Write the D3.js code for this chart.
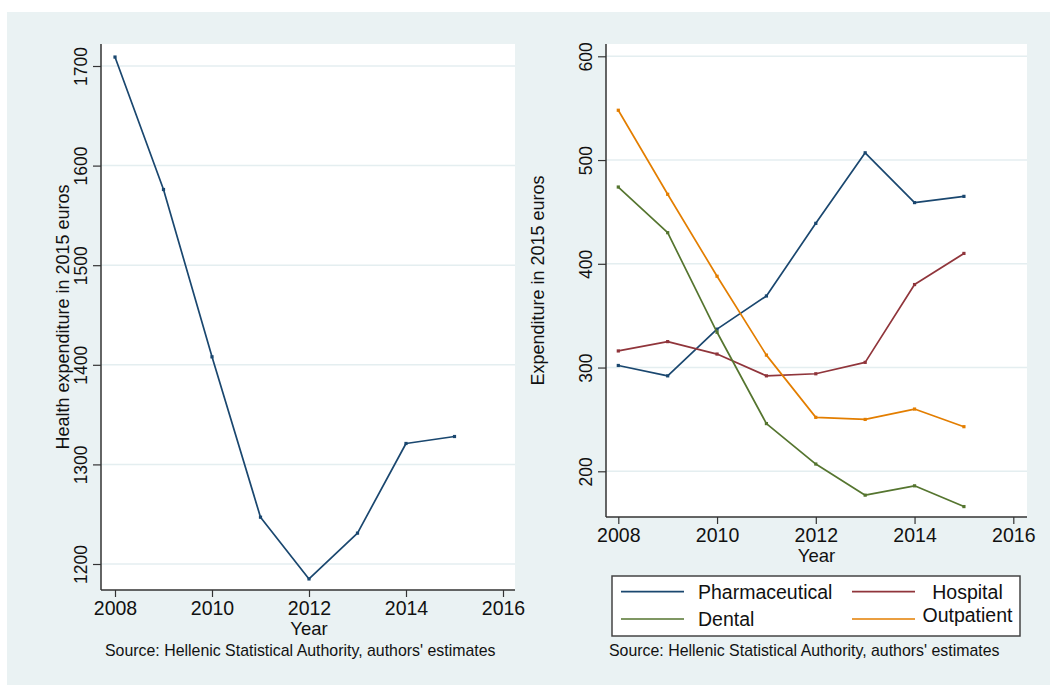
<!DOCTYPE html>
<html>
<head>
<meta charset="utf-8">
<script src="https://cdn.jsdelivr.net/npm/d3@7"></script>
<style>
  html, body { margin: 0; padding: 0; background: #ffffff; }
  svg { display: block; font-family: "Liberation Sans", Arial, Helvetica, sans-serif; }
</style>
</head>
<body>
<svg id="chart" width="1050" height="685"></svg>
<script>
// Years on the horizontal axes
const years = [2008, 2009, 2010, 2011, 2012, 2013, 2014, 2015];
const xTicks = [2008, 2010, 2012, 2014, 2016];

// Left panel: total health expenditure per capita (2015 euros)
const totalExpenditure = [1709, 1576, 1408, 1247, 1185, 1231, 1321, 1328];
const leftYTicks = [1200, 1300, 1400, 1500, 1600, 1700];

// Right panel: expenditure by type (2015 euros)
const seriesNames = ["Pharmaceutical", "Hospital", "Dental", "Outpatient"];
const pharmaceutical = [302, 292, 337, 369, 439, 507, 459, 465];
const hospital = [316, 325, 313, 292, 294, 305, 380, 410];
const dental = [474, 430, 334, 246, 207, 177, 186, 166];
const outpatient = [548, 467, 388, 312, 252, 250, 260, 243];
const rightYTicks = [200, 300, 400, 500, 600];

const sourceNote = "Source: Hellenic Statistical Authority, authors' estimates";

const colors = {
  Pharmaceutical: "#1a476f",
  Hospital: "#90353b",
  Dental: "#55752f",
  Outpatient: "#e37e00"
};
const bg = "#eaf2f3";
const gridColor = "#e4eef0";
const axisColor = "#333333";

const svg = d3.select("#chart");

// Graph region background
svg.append("rect").attr("x", 7).attr("y", 12).attr("width", 1043).attr("height", 673).attr("fill", bg);

function panel(opts) {
  const g = svg.append("g");
  const x = d3.scaleLinear().domain([2008, 2016]).range(opts.xRange);
  const y = d3.scaleLinear().domain(opts.yDomain).range(opts.yRange);

  // plot region
  g.append("rect")
    .attr("x", opts.left).attr("y", opts.top)
    .attr("width", opts.right - opts.left).attr("height", opts.bottom - opts.top)
    .attr("fill", "#ffffff");

  // horizontal grid lines
  g.append("g").selectAll("line").data(opts.yTicks).join("line")
    .attr("x1", opts.left).attr("x2", opts.right)
    .attr("y1", d => y(d)).attr("y2", d => y(d))
    .attr("stroke", gridColor).attr("stroke-width", 1.5);

  // x axis
  const xAxis = g.append("g")
    .attr("transform", `translate(0,${opts.bottom})`)
    .call(d3.axisBottom(x).tickValues(xTicks).tickFormat(d3.format("d")).tickSize(7).tickSizeOuter(0));
  xAxis.select(".domain").attr("d", `M${opts.left},0H${opts.right}`).attr("stroke", axisColor).attr("stroke-width", 1.5);
  xAxis.selectAll(".tick line").attr("stroke", axisColor).attr("stroke-width", 1.2);
  xAxis.selectAll(".tick text")
    .attr("y", 25).attr("dy", 0)
    .attr("fill", "#111").attr("font-size", 19.5).attr("font-family", null);

  // y axis with rotated labels
  const yAxis = g.append("g")
    .attr("transform", `translate(${opts.left},0)`)
    .call(d3.axisLeft(y).tickValues(opts.yTicks).tickFormat(d3.format("d")).tickSize(8).tickSizeOuter(0));
  yAxis.select(".domain").attr("d", `M0,${opts.top}V${opts.bottom}`).attr("stroke", axisColor).attr("stroke-width", 1.5);
  yAxis.selectAll(".tick line").attr("stroke", axisColor).attr("stroke-width", 1.2);
  yAxis.selectAll(".tick text")
    .attr("transform", "rotate(-90)")
    .attr("x", 0).attr("y", -14.5).attr("dy", 0)
    .attr("text-anchor", "middle")
    .attr("fill", "#111").attr("font-size", 17.5).attr("font-family", null);

  // axis titles
  g.append("text")
    .attr("x", opts.yearX).attr("y", opts.bottom + 45)
    .attr("text-anchor", "middle").attr("font-size", 18.5).attr("fill", "#111")
    .text("Year");
  g.append("text")
    .attr("transform", `translate(${opts.yTitleX},${(opts.top + opts.bottom) / 2}) rotate(-90)`)
    .attr("text-anchor", "middle").attr("font-size", 18).attr("fill", "#111")
    .text(opts.yTitle);

  // source note
  g.append("text")
    .attr("x", opts.noteX).attr("y", 655.5)
    .attr("font-size", 15.9).attr("fill", "#111")
    .text(sourceNote);

  // series
  const line = d3.line().x((d, i) => x(years[i])).y(d => y(d));
  opts.series.forEach(s => {
    g.append("path")
      .datum(s.values)
      .attr("d", line)
      .attr("fill", "none")
      .attr("stroke", s.color)
      .attr("stroke-width", 1.7)
      .attr("stroke-linejoin", "round");
    g.append("g").selectAll("rect").data(s.values).join("rect")
      .attr("x", (d, i) => x(years[i]) - 1.6)
      .attr("y", d => y(d) - 1.6)
      .attr("width", 3.2).attr("height", 3.2)
      .attr("fill", s.color);
  });
  return { x, y };
}

// Left panel
panel({
  left: 101, right: 515, top: 44, bottom: 590,
  xRange: [115, 503],
  yDomain: [1200, 1700], yRange: [564, 66],
  yTicks: leftYTicks,
  yTitle: "Health expenditure in 2015 euros",
  yTitleX: 68.5,
  yearX: 309,
  noteX: 105,
  series: [{ color: colors.Pharmaceutical, values: totalExpenditure }]
});

// Right panel
panel({
  left: 606, right: 1027, top: 44, bottom: 517,
  xRange: [618.3, 1013.3],
  yDomain: [200, 600], yRange: [471.3, 56.3],
  yTicks: rightYTicks,
  yTitle: "Expenditure in 2015 euros",
  yTitleX: 543.5,
  yearX: 816.5,
  noteX: 609,
  series: [
    { color: colors.Pharmaceutical, values: pharmaceutical },
    { color: colors.Hospital, values: hospital },
    { color: colors.Dental, values: dental },
    { color: colors.Outpatient, values: outpatient }
  ]
});

// Legend
const legend = svg.append("g");
legend.append("rect")
  .attr("x", 612).attr("y", 576).attr("width", 408).attr("height", 60)
  .attr("fill", "#ffffff").attr("stroke", "#444").attr("stroke-width", 1.5);

const legendItems = [
  { name: seriesNames[0], kx: 621, ky: 591.7, tx: 698, ty: 599, anchor: "start" },
  { name: seriesNames[1], kx: 852, ky: 591.7, tx: 967.5, ty: 598.5, anchor: "middle" },
  { name: seriesNames[2], kx: 621, ky: 619, tx: 698, ty: 626, anchor: "start" },
  { name: seriesNames[3], kx: 852, ky: 619, tx: 967.5, ty: 621.5, anchor: "middle" }
];
legendItems.forEach(it => {
  legend.append("line")
    .attr("x1", it.kx).attr("x2", it.kx + 63)
    .attr("y1", it.ky).attr("y2", it.ky)
    .attr("stroke", colors[it.name]).attr("stroke-width", 1.7);
  legend.append("text")
    .attr("x", it.tx).attr("y", it.ty)
    .attr("text-anchor", it.anchor)
    .attr("font-size", 19.5).attr("fill", "#111")
    .text(it.name);
});
</script>
</body>
</html>
